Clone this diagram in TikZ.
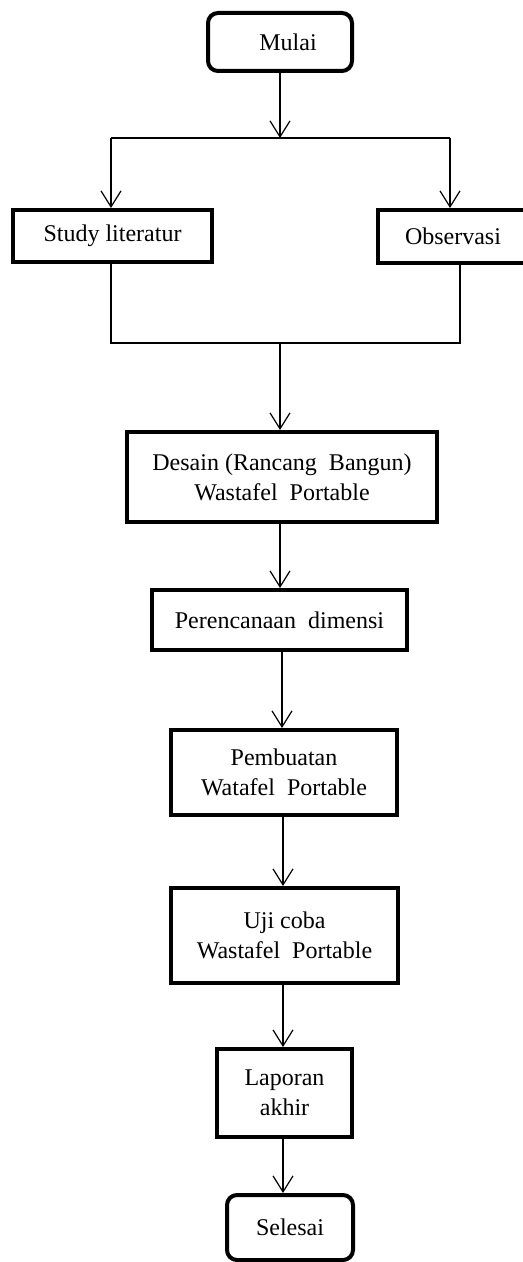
\documentclass[tikz,border=0pt]{standalone}
\usepackage{fontspec}
\setmainfont{Liberation Serif}
\usetikzlibrary{arrows.meta,calc}

\begin{document}
\begin{tikzpicture}[x=0.5pt, y=-0.5pt,
            proses/.style = {draw, line width=2pt, align=center, inner sep=0pt,
                             font=\fontsize{12}{15}\selectfont},
            terminal/.style = {proses, rounded corners=5pt},
            panah/.style = {-{Straight Barb[length=8pt,width=10pt]}, line width=0.6pt}
            ]
            \useasboundingbox (0,0) rectangle (523,1262);

            \node[terminal, minimum width=72pt, minimum height=29pt] (mulai) at (280,42) {\hspace{8pt}Mulai};
            \node[proses, minimum width=99.5pt, minimum height=26pt] (study) at (112.5,236) {Study literatur};
            \node[proses, minimum width=75pt, minimum height=26.5pt] (obs) at (453,236.5) {Observasi};
            \node[proses, minimum width=155pt, minimum height=45pt] (desain) at (282,477) {Desain (Rancang\ \ Bangun)\\Wastafel\ \ Portable};
            \node[proses, minimum width=127.5pt, minimum height=30pt] (peren) at (279.5,620) {Perencanaan\ \ dimensi};
            \node[proses, minimum width=113pt, minimum height=42.5pt] (pemb) at (284,772.5) {Pembuatan\\Watafel\ \ Portable};
            \node[proses, minimum width=113.5pt, minimum height=47.5pt] (uji) at (284.5,935.5) {Uji coba\\Wastafel\ \ Portable};
            \node[proses, minimum width=67.5pt, minimum height=44pt] (lap) at (284.5,1093) {Laporan\\akhir};
            \node[terminal, minimum width=63pt, minimum height=32.5pt] (sel) at (290,1227.5) {Selesai};

            % cabang ke dua kotak
            \coordinate (cabang) at (280,138);
            \coordinate (kiri) at (111,138);
            \coordinate (kanan) at (450,138);
            \draw[panah] (mulai) -- (cabang);
            \draw[line width=0.6pt] (kiri) -- (kanan);
            \draw[panah] (kiri) -- (kiri |- study.north);
            \draw[panah] (kanan) -- (kanan |- obs.north);

            % gabung kembali
            \coordinate (kiri2) at (111,343);
            \coordinate (kanan2) at (460,343);
            \coordinate (gabung) at (280,343);
            \draw[line width=0.6pt] (kiri |- study.south) -- (kiri2) -- (kanan2) -- (kanan2 |- obs.south);
            \draw[panah] (gabung) -- (gabung |- desain.north);

            \coordinate (jalur1) at (282,0);
            \coordinate (jalur2) at (283,0);
            \draw[panah] (gabung |- desain.south) -- (gabung |- peren.north);
            \draw[panah] (jalur1 |- peren.south) -- (jalur1 |- pemb.north);
            \draw[panah] (jalur2 |- pemb.south) -- (jalur2 |- uji.north);
            \draw[panah] (jalur2 |- uji.south) -- (jalur2 |- lap.north);
            \draw[panah] (jalur2 |- lap.south) -- (jalur2 |- sel.north);
\end{tikzpicture}
\end{document}
